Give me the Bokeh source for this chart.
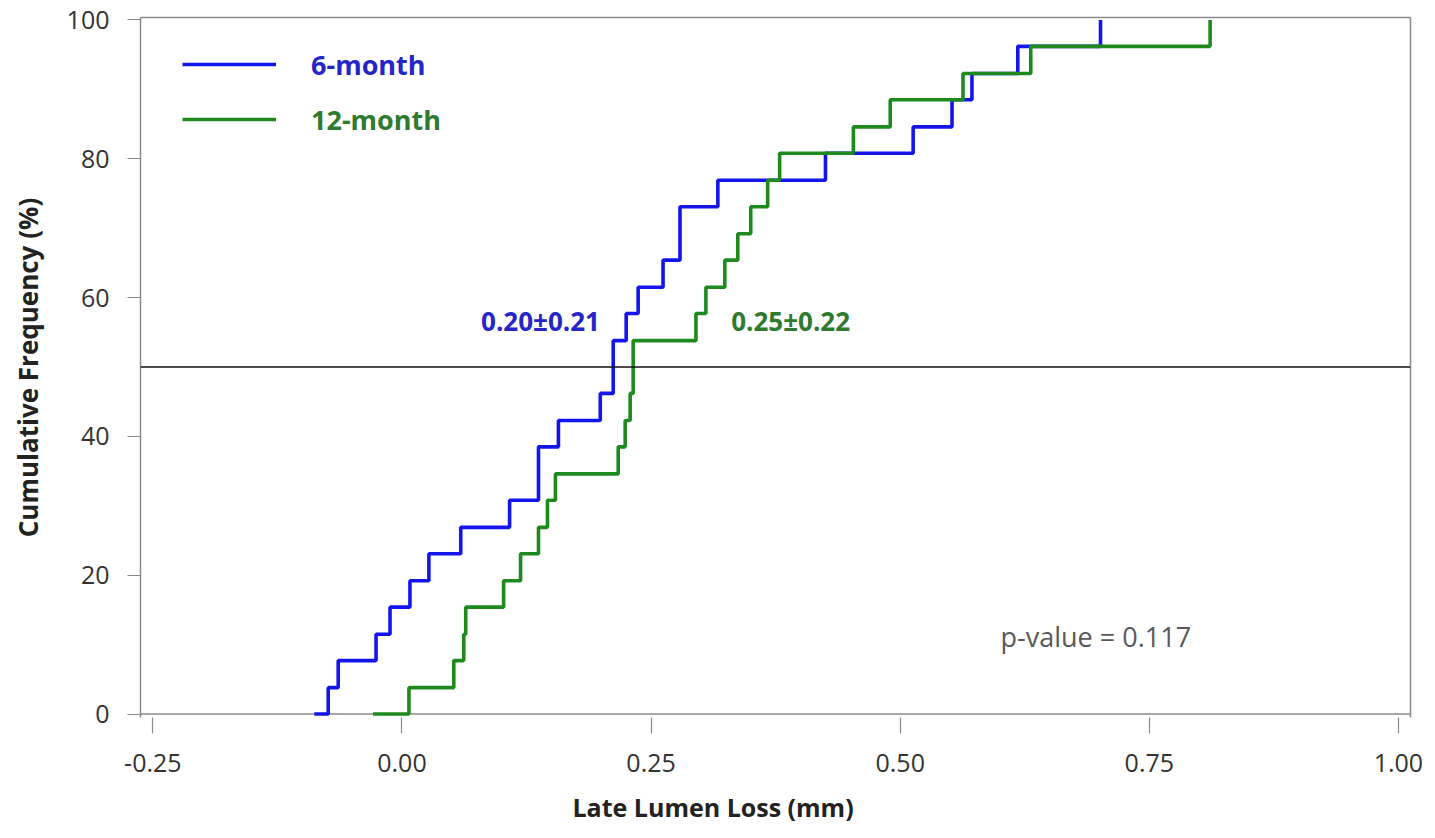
from bokeh.plotting import figure
from bokeh.models import (Range1d, FixedTicker, NumeralTickFormatter, Span, Label,
                          Legend, LegendItem, LinearAxis, Title)
from bokeh.embed import file_html
from bokeh.resources import INLINE

# ---- data ----
blue_x = [-0.088, -0.074, -0.064, -0.026, -0.012, 0.008, 0.027, 0.059, 0.108, 0.137,
          0.157, 0.199, 0.212, 0.225, 0.237, 0.262, 0.279, 0.317, 0.425, 0.513,
          0.552, 0.572, 0.618, 0.701]
blue_y = [0, 3.8, 7.7, 11.5, 15.4, 19.2, 23.1, 26.9, 30.8, 38.5,
          42.3, 46.2, 53.8, 57.7, 61.5, 65.4, 73.1, 76.9, 80.8, 84.6,
          88.5, 92.3, 96.2, 100]

green_x = [-0.029, 0.007, 0.052, 0.062, 0.064, 0.102, 0.119, 0.137, 0.146, 0.154,
           0.217, 0.224, 0.229, 0.232, 0.295, 0.305, 0.324, 0.337, 0.350, 0.367,
           0.379, 0.453, 0.490, 0.563, 0.631, 0.811]
green_y = [0, 3.8, 7.7, 11.5, 15.4, 19.2, 23.1, 26.9, 30.8, 34.6,
           38.5, 42.3, 46.2, 53.8, 57.7, 61.5, 65.4, 69.2, 73.1, 76.9,
           80.8, 84.6, 88.5, 92.3, 96.2, 100]

x_ticks = [-0.25, 0.0, 0.25, 0.5, 0.75, 1.0]
y_ticks = [0, 20, 40, 60, 80, 100]

series_names = ["6-month", "12-month"]
stats_text = ["0.20\u00b10.21", "0.25\u00b10.22"]
p_text = "p-value = 0.117"

BLUE = "#1414EE"
GREEN = "#1E8A1E"
BLUE_T = "#2525C8"
GREEN_T = "#2E7A2E"
GRAY = "#8A8A8A"
FONT = "Open Sans"

p = figure(width=1435, height=838, output_backend="svg", toolbar_location=None,
           x_range=Range1d(-0.2624, 1.0121), y_range=Range1d(-0.5, 100.36),
           min_border_left=140, min_border_right=25, min_border_top=17,
           min_border_bottom=121)
p.outline_line_color = None
p.xgrid.visible = False
p.ygrid.visible = False
p.background_fill_color = "white"
p.border_fill_color = "white"

# bottom axis
xa = p.xaxis[0]
xa.ticker = FixedTicker(ticks=x_ticks)
xa.formatter = NumeralTickFormatter(format="0.00")
xa.axis_line_color = None
xa.major_tick_line_color = GRAY
xa.major_tick_line_width = 1.2
xa.major_tick_in = 0
xa.major_tick_out = 16
xa.minor_tick_line_color = None
xa.major_label_standoff = 20
xa.major_label_text_font = FONT
xa.major_label_text_font_size = "25px"
xa.major_label_text_color = "#333333"

# left axis
ya = p.yaxis[0]
ya.ticker = FixedTicker(ticks=y_ticks)
ya.axis_line_color = GRAY
ya.axis_line_width = 1.5
ya.major_tick_line_color = GRAY
ya.major_tick_line_width = 1.2
ya.major_tick_in = 0
ya.major_tick_out = 13
ya.minor_tick_line_color = None
ya.major_label_standoff = 18
ya.major_label_text_font = FONT
ya.major_label_text_font_size = "25px"
ya.major_label_text_color = "#333333"
ya.axis_label = "Cumulative Frequency (%)"
ya.axis_label_text_font = FONT
ya.axis_label_text_font_size = "26px"
ya.axis_label_text_font_style = "bold"
ya.axis_label_text_color = "#222222"
ya.axis_label_standoff = 18

# border lines on top and right
for loc in ("above", "right"):
    ax = LinearAxis(ticker=FixedTicker(ticks=[]), axis_line_color=GRAY, axis_line_width=1.5,
                    major_tick_line_color=None, minor_tick_line_color=None,
                    major_label_text_font_size="0px")
    p.add_layout(ax, loc)

# x axis title (off-centre in the original)
p.add_layout(Title(text="Late Lumen Loss (mm)", align="left", offset=432, standoff=27,
                   text_font=FONT, text_font_size="25px", text_font_style="bold",
                   text_color="#222222"), "below")

# bottom base line at 0
p.add_layout(Span(location=0, dimension="width", line_color=GRAY, line_width=1.5, level="underlay"))
# median line
p.add_layout(Span(location=50, dimension="width", line_color="#111111", line_width=1.6))

r_blue = p.step(blue_x, blue_y, mode="after", line_color=BLUE, line_width=3.6)
r_green = p.step(green_x, green_y, mode="after", line_color=GREEN, line_width=3.6)

# legends (one per series so each label gets its own colour)
for r, name, col, y in ((r_blue, series_names[0], BLUE_T, 633), (r_green, series_names[1], GREEN_T, 578)):
    lg = Legend(items=[LegendItem(label=name, renderers=[r])], location=(42, y),
                padding=0, margin=0, spacing=0, border_line_color=None,
                background_fill_alpha=0, glyph_width=94, glyph_height=40, label_height=40,
                label_standoff=35, label_text_font=FONT, label_text_font_size="27px",
                label_text_font_style="bold", label_text_color=col)
    p.add_layout(lg, "center")

p.add_layout(Label(x=0.139, y=56.7, text=stats_text[0], text_align="center",
                   text_baseline="middle", text_font=FONT, text_font_size="26px",
                   text_font_style="bold", text_color=BLUE_T))
p.add_layout(Label(x=0.390, y=56.7, text=stats_text[1], text_align="center",
                   text_baseline="middle", text_font=FONT, text_font_size="26px",
                   text_font_style="bold", text_color=GREEN_T))
p.add_layout(Label(x=0.6007, y=11.2, text=p_text, text_align="left",
                   text_baseline="middle", text_font=FONT, text_font_size="27px",
                   text_color="#595959"))

open("out.html", "w").write(file_html(p, INLINE))
